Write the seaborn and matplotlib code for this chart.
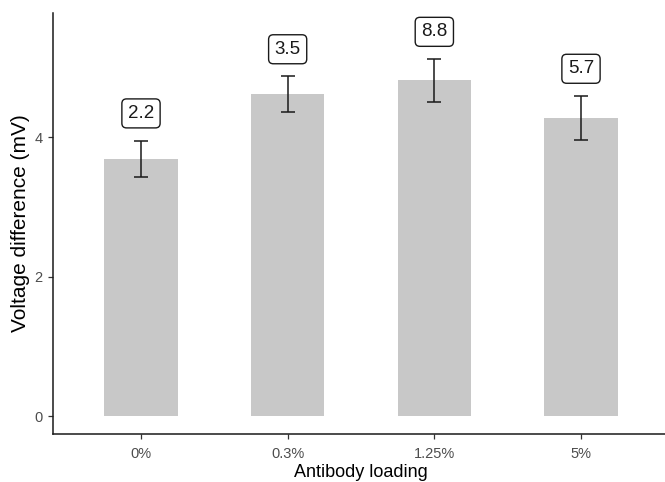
import matplotlib
matplotlib.use("Agg")
import matplotlib.pyplot as plt
import seaborn as sns
import pandas as pd

# Voltage difference per antibody loading (mean ± SE) and the annotated values
loading = ["0%", "0.3%", "1.25%", "5%"]
voltage_mean = [3.69, 4.615, 4.815, 4.275]
voltage_se = [0.26, 0.255, 0.305, 0.315]
annot_values = [2.2, 3.5, 8.8, 5.7]

df = pd.DataFrame({"loading": loading, "voltage": voltage_mean, "se": voltage_se})

sns.set_theme(style="white")
plt.rcParams["font.family"] = ["Liberation Sans", "DejaVu Sans"]

fig = plt.figure(figsize=(6.65, 4.82), dpi=100)
ax = fig.add_axes([53 / 665, 1 - 434 / 482, 616 / 665, 421 / 482])

sns.barplot(data=df, x="loading", y="voltage", color="#c8c8c8", saturation=1,
            width=0.5, errorbar=None, ax=ax, linewidth=0)

xs = range(len(df))
ax.errorbar(xs, df["voltage"], yerr=df["se"], fmt="none", ecolor="#1a1a1a",
            elinewidth=1.1, capsize=5.2, capthick=1.1)

for x, m, s, v in zip(xs, voltage_mean, voltage_se, annot_values):
    ax.text(x, m + s + 0.39, f"{v:.1f}", ha="center", va="center", fontsize=13.5,
            color="#1a1a1a",
            bbox=dict(boxstyle="round,pad=0.32,rounding_size=0.25", fc="white",
                      ec="#1a1a1a", lw=1.0))

ax.set_xlim(-0.6, 3.6)
ax.set_ylim(-0.258, 5.78)
ax.set_yticks([0, 2, 4])

for side in ["top", "right"]:
    ax.spines[side].set_visible(False)
for side in ["left", "bottom"]:
    ax.spines[side].set_color("#1a1a1a")
    ax.spines[side].set_linewidth(1.1)

ax.tick_params(axis="both", which="both", length=3.5, width=0.9, color="#333333",
               labelcolor="#4d4d4d", labelsize=10.5, bottom=True, left=True)
ax.tick_params(axis="x", pad=6)
ax.tick_params(axis="y", pad=4)

ax.set_xlabel("Antibody loading", fontsize=13, color="black", labelpad=2)
ax.set_ylabel("Voltage difference (mV)", fontsize=15, color="black", labelpad=3)

fig.savefig("out.png", dpi=100)
